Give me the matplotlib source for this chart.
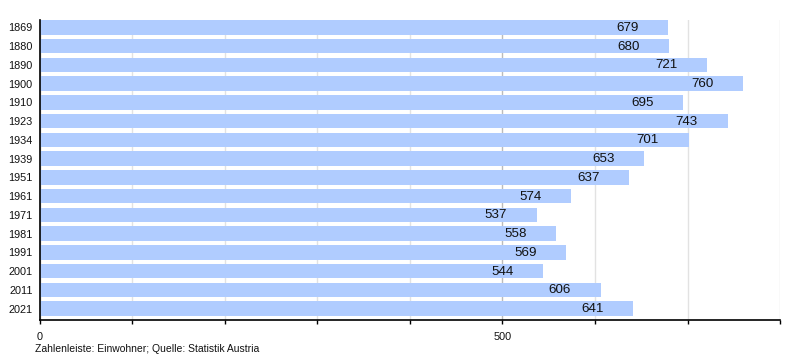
import matplotlib.pyplot as plt
from matplotlib.ticker import MultipleLocator, FixedLocator

plt.rcParams['font.family'] = ['Liberation Sans', 'DejaVu Sans']

# population per census year
years = ['1869', '1880', '1890', '1900', '1910', '1923', '1934', '1939',
         '1951', '1961', '1971', '1981', '1991', '2001', '2011', '2021']
values = [679, 680, 721, 760, 695, 743, 701, 653,
          637, 574, 537, 558, 569, 544, 606, 641]
caption = 'Zahlenleiste: Einwohner; Quelle: Statistik Austria'

fig = plt.figure(figsize=(8, 3.6), dpi=100)
ax = fig.add_axes([39.5 / 800, 40 / 360, (780.3 - 39.5) / 800, 300 / 360])

pos = list(range(len(years)))
ax.barh(pos, values, height=0.78, color='#b0ccff', zorder=2)

for p, v in zip(pos, values):
    ax.text(v - 32, p + 0.03, str(v), ha='right', va='center', fontsize=9.6,
            color='#111111', zorder=3)

# bars sit at the top of their slots
ax.set_ylim(len(years) - 0.39, -0.39)
ax.set_yticks(pos)
ax.set_yticklabels(years, fontsize=7.8, color='#111111')
ax.tick_params(axis='y', length=0, pad=5)

ax.set_xlim(0, 800)
ax.xaxis.set_major_locator(FixedLocator([0, 500]))
ax.xaxis.set_minor_locator(MultipleLocator(100))
ax.tick_params(axis='x', which='both', length=3, width=1, color='black',
               labelsize=7.8, labelcolor='#111111', pad=6)
ax.grid(axis='x', which='minor', color='#e2e2e2', linewidth=1, zorder=0)
ax.grid(axis='x', which='major', color='#bbbbbb', linewidth=1, zorder=0)
ax.set_axisbelow(True)

for s in ['top', 'right']:
    ax.spines[s].set_visible(False)
for s in ['left', 'bottom']:
    ax.spines[s].set_color('black')
    ax.spines[s].set_linewidth(1.2)
    ax.spines[s].set_zorder(4)

fig.text(35 / 800, 1 - 352 / 360, caption, fontsize=7.45, color='#111111',
         va='baseline', ha='left')

fig.savefig('out.png', dpi=100)
